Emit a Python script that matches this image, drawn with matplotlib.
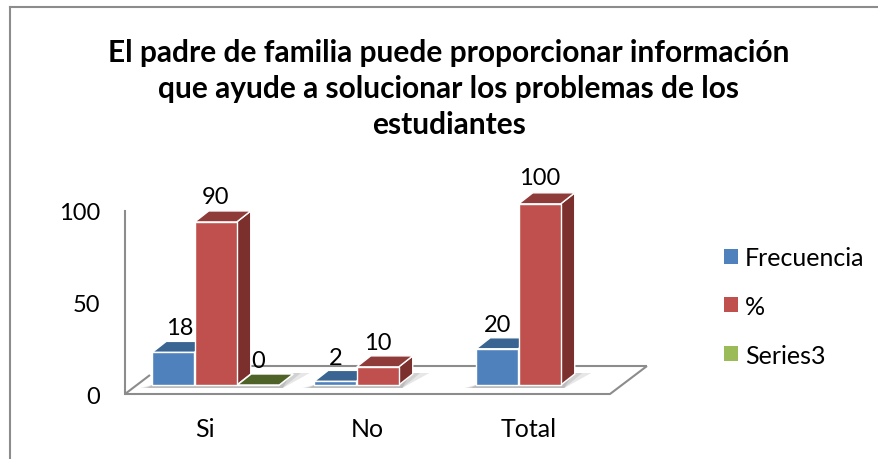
import matplotlib
matplotlib.use("Agg")
import matplotlib.pyplot as plt
from matplotlib.patches import Polygon

plt.rcParams['font.family'] = ['Lato', 'DejaVu Sans']

categories = ['Si', 'No', 'Total']
series_names = ['Frecuencia', '%', 'Series3']
frecuencia = [18, 2, 20]
porcentaje = [90, 10, 100]
series3 = [0, None, None]
y_ticks = [0, 50, 100]

title = ('El padre de familia puede proporcionar información\n'
         'que ayude a solucionar los problemas de los\n'
         'estudiantes')

# front, top, side colours of each series
colors = [('#4F81BD', '#3A6491', '#35587F'),
          ('#C0504D', '#8F3B39', '#7C302E'),
          ('#9BBB59', '#4F6228', '#4F6228')]

W, H = 879, 460
fig = plt.figure(figsize=(W / 100, H / 100), dpi=100)

# axes box = the chart's front wall/floor corner in pixels
left, right, top, bottom = 125, 647, 212, 395
ax = fig.add_axes([left / W, 1 - bottom / H, (right - left) / W, (bottom - top) / H])

# one category = 162 px, centre of first group at 216 px
px_x = 1 / 162
px_y = 100 / (bottom - top)
ax.set_xlim((left - 216) * px_x, (right - 216) * px_x)
ax.set_ylim(0, 100)
ax.patch.set_alpha(0)
ax.set_xticks([])
ax.set_yticks(y_ticks)
ax.tick_params(axis='y', length=0, labelsize=17, pad=18)
for s in ['top', 'right', 'bottom']:
    ax.spines[s].set_visible(False)
ax.spines['left'].set_color('#8C8C8C')
ax.spines['left'].set_linewidth(1.5)

bar_w = 42 * px_x
step = 42.5 * px_x
depth_x = 14 * px_x
depth_y = 11 * px_y
lift = 9 * px_y
bar_scale = 0.99


def floor_line(xs, ys):
    ax.plot(xs, ys, color='#8C8C8C', lw=1.5, clip_on=False, solid_capstyle='butt')


# floor
x0, x1 = ax.get_xlim()
back_y = 28 * px_y
floor_line([x0, x1 - 37 * px_x, x1], [0, 0, back_y])
floor_line([x0 + 36 * px_x, x1], [back_y, back_y])
floor_line([x0, x0 + 25 * px_x], [0, 19 * px_y])


def draw_shadow(x, width):
    # shadow of a bar group on the floor, layered to look a bit blurred
    xa, xb = x, x + width
    for grow, alpha in [(1.0, 0.25), (0.7, 0.3), (0.4, 0.4)]:
        ax.add_patch(Polygon([(xa - 12 * grow * px_x, lift - 3 * px_y), (xb + 3 * px_x, lift - 3 * px_y),
                              (xb + 30 * grow * px_x, lift + 12 * px_y), (xb + depth_x, lift + 12 * px_y),
                              (xb, lift), (xa, lift)],
                             fc='#A0A0A0', ec='none', alpha=alpha, clip_on=False, zorder=2))


def draw_bar(x, value, cols):
    y0 = lift
    y1 = lift + value * bar_scale
    front, top_c, side = cols
    ax.add_patch(Polygon([(x + bar_w, y0), (x + bar_w + depth_x, y0 + depth_y),
                          (x + bar_w + depth_x, y1 + depth_y), (x + bar_w, y1)],
                         fc=side, ec='white', lw=1, clip_on=False, zorder=3))
    ax.add_patch(Polygon([(x, y1), (x + depth_x, y1 + depth_y),
                          (x + bar_w + depth_x, y1 + depth_y), (x + bar_w, y1)],
                         fc=top_c, ec='white', lw=1, clip_on=False, zorder=3))
    ax.bar(x, value * bar_scale, bar_w, bottom=y0, align='edge', color=front, edgecolor='white',
           lw=1, clip_on=False, zorder=4)


all_series = [frecuencia, porcentaje, series3]
label_nudge = {18: 5}
for i in range(len(categories)):
    n = sum(1 for s in all_series if s[i] is not None)
    draw_shadow(i - 1.5 * step, n * step)
for j, values in enumerate(all_series):
    for i, v in enumerate(values):
        if v is None:
            continue
        x = i + (j - 1.5) * step
        draw_bar(x, v, colors[j])
        ax.annotate(str(v), (x + bar_w / 2, lift + v + depth_y),
                    xytext=(label_nudge.get(v, 0), 2),
                    textcoords='offset points', ha='center', va='bottom',
                    fontsize=17, color='black', annotation_clip=False, zorder=6)

# category labels sit below the floor
for i, c in enumerate(categories):
    ax.annotate(c, (i, 0), xytext=(-8, -25), textcoords='offset points', ha='center',
                va='center', fontsize=18, annotation_clip=False)

fig.text(449 / W, 1 - 89 / H, title, ha='center', va='center', fontsize=21.5,
         fontweight='bold', linespacing=1.35)

# legend
handles = [plt.Rectangle((0, 0), 1, 1, fc=c[0], ec='none') for c in colors]
fig.legend(handles, series_names, loc='upper left', bbox_to_anchor=(724 / W, 1 - 247 / H),
           frameon=False, fontsize=18, handlelength=0.55, handleheight=0.55,
           handletextpad=0.3, labelspacing=1.03, borderpad=0, borderaxespad=0)

# chart frame, open on the right
for xs, ys in [([10, 10], [8, 460]), ([10, 879], [8, 8])]:
    fig.add_artist(plt.Line2D([x / W for x in xs], [1 - y / H for y in ys],
                              color='#8C8C8C', lw=1.5))

fig.savefig('out.png', dpi=100)
